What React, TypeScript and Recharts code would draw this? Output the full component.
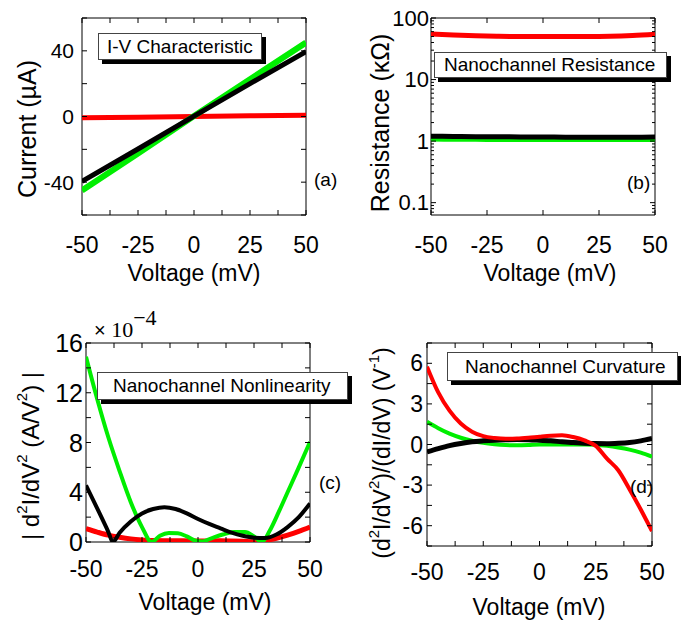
import React from 'react';
import { LineChart, Line, XAxis, YAxis, ReferenceArea } from 'recharts';

const SANS = '"Liberation Sans", Arial, sans-serif';
const SERIF = '"Liberation Serif", "Times New Roman", serif';
const RED = '#ff0000';
const GREEN = '#00ee00';
const BLACK = '#000000';

// ---------- shared axis ticks ----------
const voltTicksFine = [-50, -37.5, -25, -12.5, 0, 12.5, 25, 37.5, 50];
const voltTicksCoarse = [-50, -25, 0, 25, 50];
const voltLabels = [-50, -25, 0, 25, 50];

// ---------- (a) I-V characteristic ----------
const ivVoltage = [-50, -25, 0, 25, 50];
const ivRed = [-0.8, -0.4, 0, 0.4, 0.8];
const ivGreen = [-45, -22.5, 0.3, 22.7, 45];
const ivBlack = [-39.5, -19.8, 0.2, 20, 39.5];
const currentTicks = [-60, -40, -20, 0, 20, 40, 60];
const currentLabels = [-40, 0, 40];

// ---------- (b) resistance ----------
const resVoltage = [-50, -40, -30, -20, -10, 0, 10, 20, 30, 40, 50];
const resRed = [55, 53, 51.5, 50.5, 50, 50, 50, 50, 50.5, 52, 54.5];
const resGreen = [1.08, 1.07, 1.07, 1.06, 1.06, 1.06, 1.06, 1.06, 1.06, 1.06, 1.06];
const resBlack = [1.2, 1.19, 1.18, 1.18, 1.17, 1.17, 1.16, 1.16, 1.16, 1.16, 1.17];
const resTicks = [0.07, 0.08, 0.09, 0.1, 0.2, 0.3, 0.4, 0.5, 0.6, 0.7, 0.8, 0.9, 1, 2, 3, 4, 5, 6, 7, 8, 9, 10, 20, 30, 40, 50, 60, 70, 80, 90, 100];
const resLabels = [0.1, 1, 10, 100];

// ---------- (c) nonlinearity (x 1e-4) ----------
const nlGreenV = [-50, -45, -40, -35, -30, -25, -20.7, -17, -13, -9, -5, -1, 2, 6, 11, 16, 21, 25, 28.5, 32, 36, 40, 45, 50];
const nlGreen = [14.9, 11.5, 8.4, 5.7, 3.2, 1.2, 0.0, 0.5, 0.72, 0.7, 0.45, 0.1, 0.05, 0.3, 0.6, 0.8, 0.8, 0.45, 0.0, 0.9, 2.4, 4.0, 6.0, 8.05];
const nlBlackV = [-50, -45, -40, -38, -35, -30, -25, -20, -15, -10, -5, 0, 5, 10, 15, 20, 25, 30, 35, 40, 45, 50];
const nlBlack = [4.56, 2.7, 0.8, 0.0, 0.75, 1.65, 2.3, 2.65, 2.8, 2.65, 2.3, 1.85, 1.45, 1.1, 0.75, 0.5, 0.35, 0.32, 0.6, 1.2, 2.0, 3.1];
const nlRedV = [-50, -45, -40, -35, -30, -25, -20, -10, 0, 10, 20, 25, 30, 35, 40, 45, 50];
const nlRed = [1.08, 0.8, 0.55, 0.38, 0.25, 0.17, 0.12, 0.1, 0.08, 0.1, 0.06, 0.02, 0.12, 0.3, 0.55, 0.85, 1.2];
const nlTicks = [0, 2, 4, 6, 8, 10, 12, 14, 16];
const nlLabels = [0, 4, 8, 12, 16];

// ---------- (d) curvature ----------
const cvVoltage = [-50, -45, -40, -35, -30, -25, -20, -15, -10, -5, 0, 5, 10, 15, 20, 25, 30, 35, 40, 45, 50];
const cvRed = [5.75, 3.85, 2.5, 1.55, 0.95, 0.62, 0.48, 0.42, 0.44, 0.5, 0.58, 0.65, 0.68, 0.55, 0.3, -0.1, -1.05, -1.9, -3.3, -4.8, -6.4];
const cvGreen = [1.68, 1.2, 0.8, 0.5, 0.28, 0.12, 0.02, -0.04, -0.06, -0.04, 0, 0, 0, 0, 0, -0.02, -0.1, -0.22, -0.38, -0.6, -0.9];
const cvBlack = [-0.55, -0.3, -0.08, 0.08, 0.2, 0.27, 0.32, 0.35, 0.37, 0.36, 0.32, 0.27, 0.2, 0.14, 0.1, 0.07, 0.06, 0.09, 0.15, 0.27, 0.44];
const cvTicks = [-7.5, -6, -4.5, -3, -1.5, 0, 1.5, 3, 4.5, 6, 7.5];
const cvLabels = [-6, -3, 0, 3, 6];

const rows = (v: number[], y: number[]) => v.map((x, i) => ({ v: x, y: y[i] }));

const fmt = (v: number) => String(v);

function xTick(labels: number[], plotH: number, labelDy: number, fontSize: number) {
  return (props: any) => {
    const { x, y, payload } = props;
    const v = payload.value;
    const len = 5;
    return (
      <g>
        <line x1={x} x2={x} y1={y} y2={y - len} stroke="#000" strokeWidth={1} />
        <line x1={x} x2={x} y1={y - plotH} y2={y - plotH + len} stroke="#000" strokeWidth={1} />
        {labels.includes(v) && (
          <text x={x} y={y + labelDy} textAnchor="middle" dominantBaseline="central" fontSize={fontSize} fontFamily={SANS} fill="#000">
            {fmt(v)}
          </text>
        )}
      </g>
    );
  };
}

function yTick(labels: number[], plotW: number, gap: number, fontSize: number, minorLen = 5) {
  return (props: any) => {
    const { x, y, payload } = props;
    const v = payload.value;
    const major = labels.includes(v);
    const len = major ? 5 : minorLen;
    return (
      <g>
        <line x1={x} x2={x + len} y1={y} y2={y} stroke="#000" strokeWidth={1} />
        <line x1={x + plotW} x2={x + plotW - len} y1={y} y2={y} stroke="#000" strokeWidth={1} />
        {major && (
          <text x={x - gap} y={y} textAnchor="end" dominantBaseline="central" fontSize={fontSize} fontFamily={SANS} fill="#000">
            {fmt(v)}
          </text>
        )}
      </g>
    );
  };
}

const xTitle = (cx: number, cy: number) => () => (
  <text x={cx} y={cy} textAnchor="middle" dominantBaseline="central" fontSize={23} fontFamily={SANS} fill="#000">
    Voltage (mV)
  </text>
);

const yTitle = (cx: number, cy: number, size: number, content: React.ReactNode) => () => (
  <text
    x={cx}
    y={cy}
    transform={`rotate(-90 ${cx} ${cy})`}
    textAnchor="middle"
    dominantBaseline="central"
    fontSize={size}
    fontFamily={SANS}
    fill="#000"
  >
    {content}
  </text>
);

const Sup = ({ children, size = 15 }: { children: React.ReactNode; size?: number }) => (
  <tspan dy={-9} fontSize={size}>{children}</tspan>
);
const Back = ({ children }: { children: React.ReactNode }) => <tspan dy={9}>{children}</tspan>;

const AnnBox = ({ left, top, width, height, text, pad }: any) => (
  <div
    style={{
      position: 'absolute',
      left,
      top,
      width,
      height,
      boxSizing: 'border-box',
      background: '#fff',
      border: '1px solid #444',
      boxShadow: '4px 4px 0 #000',
      fontFamily: SANS,
      fontSize: 19,
      lineHeight: `${height - 2}px`,
      paddingLeft: pad,
      whiteSpace: 'nowrap',
      color: '#000',
    }}
  >
    {text}
  </div>
);

const Tag = ({ left, top, text }: any) => (
  <div style={{ position: 'absolute', left, top, fontFamily: SANS, fontSize: 19, lineHeight: '22px', color: '#000' }}>{text}</div>
);

function PanelA() {
  const plotW = 224, plotH = 197;
  return (
    <LineChart width={340} height={300} margin={{ top: 18, right: 34, bottom: 0, left: 0 }}>
      <XAxis dataKey="v" type="number" domain={[-50, 50]} ticks={voltTicksFine} interval={0} tickSize={0} tickMargin={0}
        axisLine={false} tickLine={false} height={85} allowDataOverflow
        tick={xTick(voltLabels, plotH, 30, 23)} label={{ content: xTitle(194, 273) }} />
      <YAxis type="number" domain={[-60, 60]} ticks={currentTicks} interval={0} tickSize={0} tickMargin={0}
        axisLine={false} tickLine={false} width={82} allowDataOverflow
        tick={yTick(currentLabels, plotW, 8, 21)} label={{ content: yTitle(27, 129, 25, 'Current (µA)') }} />
      <ReferenceArea x1={-50} x2={50} y1={-60} y2={60} fill="none" stroke="#000" strokeWidth={1} ifOverflow="visible" />
      <Line data={rows(ivVoltage, ivRed)} dataKey="y" stroke={RED} strokeWidth={5} dot={false} isAnimationActive={false} type="linear" />
      <Line data={rows(ivVoltage, ivGreen)} dataKey="y" stroke={GREEN} strokeWidth={6} dot={false} isAnimationActive={false} type="linear" />
      <Line data={rows(ivVoltage, ivBlack)} dataKey="y" stroke={BLACK} strokeWidth={5} dot={false} isAnimationActive={false} type="linear" />
    </LineChart>
  );
}

function PanelB() {
  const plotW = 224, plotH = 197;
  return (
    <LineChart width={341} height={300} margin={{ top: 18, right: 26, bottom: 0, left: 0 }}>
      <XAxis dataKey="v" type="number" domain={[-50, 50]} ticks={voltTicksCoarse} interval={0} tickSize={0} tickMargin={0}
        axisLine={false} tickLine={false} height={85} allowDataOverflow
        tick={xTick(voltLabels, plotH, 30, 23)} label={{ content: xTitle(210, 273) }} />
      <YAxis type="number" scale="log" domain={[0.063, 100]} ticks={resTicks} interval={0} tickSize={0} tickMargin={0}
        axisLine={false} tickLine={false} width={91} allowDataOverflow
        tick={yTick(resLabels, plotW, 2, 22, 3)} label={{ content: yTitle(40, 123, 25, 'Resistance (κΩ)') }} />
      <ReferenceArea x1={-50} x2={50} y1={0.063} y2={100} fill="none" stroke="#000" strokeWidth={1} ifOverflow="visible" />
      <Line data={rows(resVoltage, resRed)} dataKey="y" stroke={RED} strokeWidth={5} dot={false} isAnimationActive={false} type="monotone" />
      <Line data={rows(resVoltage, resGreen)} dataKey="y" stroke={GREEN} strokeWidth={5} dot={false} isAnimationActive={false} type="monotone" />
      <Line data={rows(resVoltage, resBlack)} dataKey="y" stroke={BLACK} strokeWidth={5} dot={false} isAnimationActive={false} type="monotone" />
    </LineChart>
  );
}

function PanelC() {
  const plotW = 224, plotH = 199;
  const title = (
    <>
      {'| d'}<Sup>2</Sup><Back>{'I/dV'}</Back><Sup>2</Sup><Back>{' (A/V'}</Back><Sup>2</Sup><Back>{') |'}</Back>
    </>
  );
  return (
    <LineChart width={340} height={332} margin={{ top: 53, right: 30, bottom: 0, left: 0 }}>
      <XAxis dataKey="v" type="number" domain={[-50, 50]} ticks={voltTicksFine} interval={0} tickSize={0} tickMargin={0}
        axisLine={false} tickLine={false} height={80} allowDataOverflow
        tick={xTick(voltLabels, plotH, 27, 23)} label={{ content: xTitle(205, 312) }} />
      <YAxis type="number" domain={[0, 16]} ticks={nlTicks} interval={0} tickSize={0} tickMargin={0}
        axisLine={false} tickLine={false} width={86} allowDataOverflow
        tick={yTick(nlLabels, plotW, 3, 25)} label={{ content: yTitle(30, 166, 24, title) }} />
      <ReferenceArea x1={-50} x2={50} y1={0} y2={16} fill="none" stroke="#000" strokeWidth={1} ifOverflow="visible" />
      <Line data={rows(nlRedV, nlRed)} dataKey="y" stroke={RED} strokeWidth={5} dot={false} isAnimationActive={false} type="monotone" />
      <Line data={rows(nlGreenV, nlGreen)} dataKey="y" stroke={GREEN} strokeWidth={4} dot={false} isAnimationActive={false} type="monotone" />
      <Line data={rows(nlBlackV, nlBlack)} dataKey="y" stroke={BLACK} strokeWidth={4} dot={false} isAnimationActive={false} type="monotone" />
    </LineChart>
  );
}

function PanelD() {
  const plotW = 225, plotH = 203;
  const title = (
    <>
      {'(d'}<Sup>2</Sup><Back>{'I/dV'}</Back><Sup>2</Sup><Back>{')/(dI/dV) (V'}</Back><Sup>-1</Sup><Back>{')'}</Back>
    </>
  );
  return (
    <LineChart width={341} height={332} margin={{ top: 53, right: 29, bottom: 0, left: 0 }}>
      <XAxis dataKey="v" type="number" domain={[-50, 50]} ticks={voltTicksFine} interval={0} tickSize={0} tickMargin={0}
        axisLine={false} tickLine={false} height={76} allowDataOverflow
        tick={xTick(voltLabels, plotH, 26, 23)} label={{ content: xTitle(199, 317) }} />
      <YAxis type="number" domain={[-7.5, 7.5]} ticks={cvTicks} interval={0} tickSize={0} tickMargin={0}
        axisLine={false} tickLine={false} width={87} allowDataOverflow
        tick={yTick(cvLabels, plotW, 4, 23)} label={{ content: yTitle(42, 163, 23, title) }} />
      <ReferenceArea x1={-50} x2={50} y1={-7.5} y2={7.5} fill="none" stroke="#000" strokeWidth={1} ifOverflow="visible" />
      <Line data={rows(cvVoltage, cvGreen)} dataKey="y" stroke={GREEN} strokeWidth={4} dot={false} isAnimationActive={false} type="monotone" />
      <Line data={rows(cvVoltage, cvBlack)} dataKey="y" stroke={BLACK} strokeWidth={5} dot={false} isAnimationActive={false} type="monotone" />
      <Line data={rows(cvVoltage, cvRed)} dataKey="y" stroke={RED} strokeWidth={4} dot={false} isAnimationActive={false} type="monotone" />
    </LineChart>
  );
}

export default function App() {
  return (
    <div style={{ position: 'absolute', left: 0, top: 0, width: 681, height: 622, background: '#fff', overflow: 'hidden', fontFamily: SANS }}>
      <div style={{ position: 'absolute', left: 0, top: 0 }}><PanelA /></div>
      <div style={{ position: 'absolute', left: 340, top: 0 }}><PanelB /></div>
      <div style={{ position: 'absolute', left: 0, top: 290 }}><PanelC /></div>
      <div style={{ position: 'absolute', left: 340, top: 290 }}><PanelD /></div>

      <AnnBox left={98} top={33} width={164} height={27} text="I-V Characteristic" pad={8} />
      <AnnBox left={434} top={52} width={233} height={26} text="Nanochannel Resistance" pad={9} />
      <AnnBox left={97} top={372} width={251} height={28} text="Nanochannel Nonlinearity" pad={15} />
      <AnnBox left={447} top={352} width={231} height={29} text="Nanochannel Curvature" pad={17} />

      <Tag left={314} top={169} text="(a)" />
      <Tag left={627} top={172} text="(b)" />
      <Tag left={319} top={472} text="(c)" />
      <Tag left={630} top={476} text="(d)" />

      <div style={{ position: 'absolute', left: 94, top: 318, fontFamily: SERIF, fontSize: 22, lineHeight: '24px', color: '#000', whiteSpace: 'nowrap' }}>
        <span style={{ fontFamily: SANS, fontSize: 20 }}>×</span> 10<span style={{ position: 'relative', top: -12 }}>−4</span>
      </div>
    </div>
  );
}
